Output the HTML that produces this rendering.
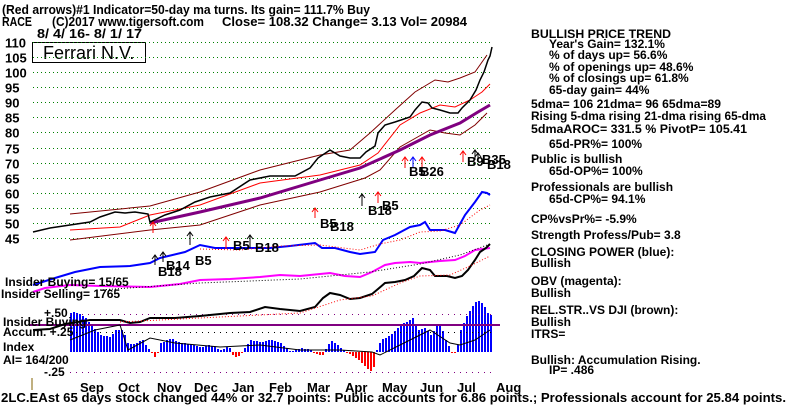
<!DOCTYPE html>
<html><head><meta charset="utf-8"><style>
html,body{margin:0;padding:0;background:#fff;width:800px;height:406px;overflow:hidden}
svg{display:block}
text{font-family:"Liberation Sans",sans-serif;font-weight:bold;fill:#000}
</style></head><body>
<svg id="s" width="800" height="406" viewBox="0 0 800 406" xmlns="http://www.w3.org/2000/svg">
<g font-size="13">
<text x="2" y="14" textLength="368" lengthAdjust="spacingAndGlyphs">(Red arrows)#1 Indicator=50-day ma turns. Its gain= 111.7% Buy</text>
<text x="2" y="26" textLength="30" lengthAdjust="spacingAndGlyphs">RACE</text>
<text x="52" y="26" textLength="152" lengthAdjust="spacingAndGlyphs">(C)2017 www.tigersoft.com</text>
<text x="222" y="26" textLength="245" lengthAdjust="spacingAndGlyphs">Close=  108.32  Change= 3.13 Vol= 20984</text>
<text x="37" y="38" textLength="105" lengthAdjust="spacingAndGlyphs">8/ 4/ 16- 8/ 1/ 17</text>
</g>
<rect x="32.5" y="42.5" width="113" height="20" fill="#fff" stroke="#000"/>
<text x="43" y="59" font-size="18" style="font-weight:normal">Ferrari N.V.</text>
<g id="grid" stroke="#008000" stroke-dasharray="1,3"></g>
<g font-size="13" id="ylab"></g>
<g id="hist" shape-rendering="crispEdges"></g>
<g id="plot"></g>
<g font-size="12">
<text x="5" y="286">Insider Buying= 15/65</text>
<text x="1" y="298">Insider Selling= 1765</text>
<text x="44" y="317">+.50</text>
<text x="3" y="326">Insider Buying</text>
<text x="3" y="336">Accum. +.25</text>
<text x="3" y="351">Index</text>
<text x="3" y="364">AI= 164/200</text>
<text x="44" y="376">-.25</text>
</g>
<line x1="32" y1="378" x2="32" y2="390" stroke="#806000"/>
<g font-size="13">
<text x="80" y="392">Sep</text><text x="118" y="392">Oct</text><text x="157" y="392">Nov</text><text x="194" y="392">Dec</text><text x="232" y="392">Jan</text><text x="269" y="392">Feb</text><text x="307" y="392">Mar</text><text x="345" y="392">Apr</text><text x="382" y="392">May</text><text x="420" y="392">Jun</text><text x="457" y="392">Jul</text><text x="496" y="392">Aug</text>
<text x="1" y="402" textLength="785" lengthAdjust="spacingAndGlyphs">2LC.EAst 65 days stock changed  44% or  32.7 points:  Public accounts for  6.86 points.;  Professionals account for  25.84 points.</text>
</g>
<g font-size="12">
<text x="531" y="38" textLength="140" lengthAdjust="spacingAndGlyphs">BULLISH PRICE TREND</text>
<text x="549" y="48">Year's Gain= 132.1%</text>
<text x="549" y="59">% of days up= 56.6%</text>
<text x="549" y="71">% of openings up= 48.6%</text>
<text x="549" y="82">% of closings up= 61.8%</text>
<text x="549" y="94">65-day gain= 44%</text>
<text x="531" y="108" textLength="190" lengthAdjust="spacingAndGlyphs">5dma= 106 21dma= 96 65dma=89</text>
<text x="531" y="120" textLength="235" lengthAdjust="spacingAndGlyphs">Rising 5-dma rising 21-dma rising 65-dma</text>
<text x="531" y="133" textLength="216" lengthAdjust="spacingAndGlyphs">5dmaAROC= 331.5 %  PivotP= 105.41</text>
<text x="549" y="148">65d-PR%= 100%</text>
<text x="531" y="163">Public is bullish</text>
<text x="549" y="175">65d-OP%= 100%</text>
<text x="531" y="191">Professionals are bullish</text>
<text x="549" y="203">65d-CP%= 94.1%</text>
<text x="531" y="223">CP%vsPr%= -5.9%</text>
<text x="531" y="239">Strength Profess/Pub= 3.8</text>
<text x="531" y="256">CLOSING POWER (blue):</text>
<text x="531" y="267">Bullish</text>
<text x="531" y="285">OBV (magenta):</text>
<text x="531" y="297">Bullish</text>
<text x="531" y="314">REL.STR..VS DJI (brown):</text>
<text x="531" y="326">Bullish</text>
<text x="531" y="338">ITRS=</text>
<text x="531" y="364">Bullish: Accumulation Rising.</text>
<text x="549" y="374">IP=  .486</text>
</g>
</svg>
<script>
(function(){
var NS="http://www.w3.org/2000/svg",plot=document.getElementById("plot"),hist=document.getElementById("hist");
function el(t,a,p){var e=document.createElementNS(NS,t);for(var k in a)e.setAttribute(k,a[k]);(p||plot).appendChild(e);return e;}
var grid=document.getElementById("grid"),yl=document.getElementById("ylab");
for(var p=110;p>=45;p-=5){var y=Math.round(42+(110-p)*3.015)+0.5;el("line",{x1:33,x2:492,y1:y,y2:y},grid);var t=el("text",{x:5,y:y+5},yl);t.textContent=p;}
[[314.5,"#800080"],[332.5,"#000"],[372.5,"#800080"]].forEach(function(a){el("line",{x1:70,x2:492,y1:a[0],y2:a[0],stroke:a[1],"stroke-dasharray":"1,5"});});
function pl(pts,c,w,d){el("polyline",{points:pts,fill:"none",stroke:c,"stroke-width":w||1,"stroke-dasharray":d||"none"});}
function interp(P,x){for(var i=0;i<P.length-1;i++){if(x>=P[i][0]&&x<=P[i+1][0]){var f=(x-P[i][0])/(P[i+1][0]-P[i][0]);return P[i][1]+f*(P[i+1][1]-P[i][1]);}}return P[P.length-1][1];}
var AI=[[70,313],[75,312],[85,318],[95,330],[100,335],[110,337],[115,330],[122,330],[128,345],[135,343],[142,340],[150,352],[155,358],[160,343],[170,338],[180,343],[190,344],[200,347],[210,345],[220,350],[228,346],[232,355],[237,358],[242,350],[250,340],[260,342],[270,340],[280,343],[290,352],[300,348],[310,350],[318,355],[322,355],[330,340],[337,345],[345,352],[350,355],[358,360],[366,368],[372,372],[376,350],[380,340],[390,335],[400,325],[412,318],[418,330],[425,328],[430,335],[437,325],[440,325],[445,340],[450,350],[453,356],[457,345],[460,330],[465,318],[472,306],[477,300],[483,305],[488,315],[490,315]];
for(var x=70;x<=490;x+=3){var v=Math.round(interp(AI,x));var ty=Math.min(v,352),h=Math.abs(352-v);el("rect",{x:x,y:ty,width:2,height:Math.max(h,1),fill:v<352?"#0000ff":"#ff0000"},hist);}
pl("30,325 500,325","#800080",2);
pl("70,340 95,330 120,325 128,350 150,338 175,343 220,347 260,345 300,350 340,350 372,352 380,355 400,345 430,330 450,343 460,345 475,340 490,330","#000",1);
pl("70,240 150,230 200,225 260,205 320,192 365,178 380,170 400,147 430,130 445,133 460,135 475,125 487,113","#800000",1);
pl("70,214 150,206 200,192 260,170 320,155 350,150 370,133 395,110 415,92 435,80 448,82 460,78 475,72 487,55","#800000",1);
pl("70,230 120,227 150,215 200,205 260,183 320,175 360,165 378,153 400,125 420,113 440,105 455,107 470,100 482,92 490,84","#ff0000",1);
pl("150,223 200,212 260,198 320,180 360,168 400,150 430,135 460,123 478,112 490,105","#800080",3);
pl("33,232 50,228 70,225 90,222 100,217 115,212 125,213 135,212 148,214 150,222 165,215 180,210 195,202 210,197 230,193 250,180 270,176 295,176 310,168 318,158 330,150 340,156 350,158 360,158 366,152 375,146 378,133 385,125 395,122 410,117 415,110 422,102 428,103 432,108 440,110 450,113 458,113 462,108 470,100 476,90 480,80 484,72 488,60 490,56 492,47","#000",1.5);
pl("33,285 55,278 75,272 100,267 130,266 150,263 160,258 185,252 200,245 215,248 240,248 270,248 290,246 315,243 322,248 335,248 350,252 360,254 375,252 383,240 395,235 410,227 420,225 425,222 430,230 445,230 455,233 465,215 475,202 482,192 487,193 490,195","#0000ff",2);
pl("200,249 240,250 280,246 320,245 360,250 380,244 400,240 420,232 440,231 460,225 480,210 490,205","#ff0000",1,"1,2");
pl("33,292 45,288 70,285 100,286 150,287 180,284 200,280 230,279 260,277 280,275 300,276 330,273 345,276 360,277 372,272 385,265 395,263 410,262 420,263 440,261 455,260 465,256 475,250 490,248","#ff00ff",2);
pl("100,290 200,283 300,279 370,272 420,264 460,255 490,244","#000",1,"1,2");
pl("33,330 50,329 65,324 90,320 120,320 130,323 140,322 150,318 175,318 200,316 230,313 250,312 265,307 280,309 300,311 315,307 323,298 330,293 340,295 350,299 360,298 372,294 378,289 385,283 395,282 405,280 414,276 422,268 430,270 435,276 447,276 455,278 462,276 468,270 475,260 480,252 486,248 490,244","#000",2);
pl("120,322 200,318 300,313 340,300 372,296 400,283 420,276 450,275 470,266 490,256","#ff0000",1,"1,2");
function arrow(x,y1,y2,c){pl(x+","+y1+" "+x+","+y2,c,1);pl((x-3)+","+(y2+4)+" "+x+","+y2+" "+(x+3)+","+(y2+4),c,1);}
function lab(x,y,t){var e=el("text",{x:x,y:y,"font-size":"13"});e.textContent=t;}
arrow(153,233,222,"#ff0000");arrow(315,218,208,"#ff0000");arrow(378,203,192,"#ff0000");arrow(362,206,194,"#000");
arrow(226,249,237,"#ff0000");arrow(250,248,235,"#000");arrow(190,245,232,"#000");
arrow(163,262,252,"#000");arrow(155,265,255,"#000");
arrow(405,168,157,"#ff0000");arrow(413,168,157,"#0000ff");arrow(422,168,157,"#ff0000");
arrow(463,162,151,"#ff0000");arrow(475,160,150,"#000");arrow(478,162,153,"#000");
lab(233,250,"B5");lab(255,252,"B18");lab(195,265,"B5");lab(166,270,"B14");lab(158,276,"B18");
lab(320,228,"B5");lab(330,231,"B18");lab(368,215,"B18");lab(382,210,"B5");
lab(409,176,"B5");lab(420,176,"B26");lab(467,166,"B9");lab(482,164,"B35");lab(487,169,"B18");
})();
</script>
</body></html>
